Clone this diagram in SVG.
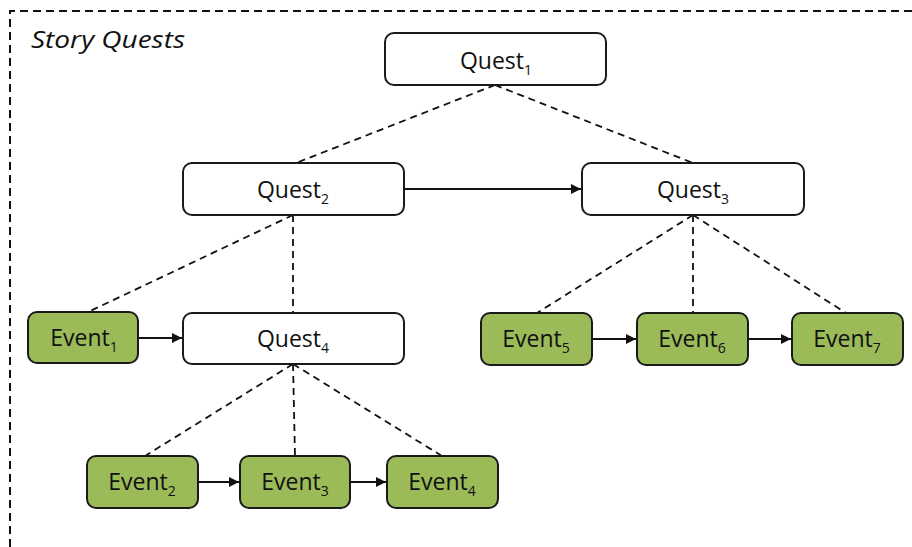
<svg xmlns="http://www.w3.org/2000/svg" width="912" height="547" viewBox="0 0 912 547">
<style>
.q{fill:#fff;stroke:#1a1a1a;stroke-width:2}
.e{fill:#9bbb59;stroke:#1a1a1a;stroke-width:2}
.t{font-family:"Open Sans","Liberation Sans",sans-serif;font-size:23px;fill:#111;text-anchor:middle}
.s{font-size:14px;fill:#111}
.d{stroke:#111;stroke-width:1.8;stroke-dasharray:7 5;fill:none}
.a{stroke:#111;stroke-width:2;fill:none;marker-end:url(#ah)}
</style>
<defs>
<marker id="ah" viewBox="0 0 10 10" refX="10" refY="5" markerWidth="10" markerHeight="10" markerUnits="userSpaceOnUse" orient="auto">
<path d="M0,0 L10,5 L0,10 z" fill="#111"/>
</marker>
</defs>
<rect x="0" y="0" width="912" height="547" fill="#fff"/>
<g id="frame">
<path d="M10,560 L10,11 L920,11" fill="none" stroke="#111" stroke-width="2" stroke-dasharray="8 5"/>
<text x="31" y="48" font-family="'Open Sans','Liberation Sans',sans-serif" font-size="24" font-style="italic" fill="#111" textLength="154" lengthAdjust="spacingAndGlyphs">Story Quests</text>
</g>
<g id="connectors">
<line class="d" x1="495" y1="85" x2="296" y2="163"/>
<line class="d" x1="495" y1="85" x2="693" y2="163"/>
<line class="d" x1="293" y1="215" x2="88" y2="312"/>
<line class="d" x1="293" y1="215" x2="293" y2="313"/>
<line class="d" x1="693" y1="215" x2="537" y2="313"/>
<line class="d" x1="693" y1="215" x2="693" y2="313"/>
<line class="d" x1="693" y1="215" x2="846" y2="313"/>
<line class="d" x1="293" y1="364" x2="145" y2="456"/>
<line class="d" x1="293" y1="364" x2="295" y2="456"/>
<line class="d" x1="293" y1="364" x2="442" y2="456"/>
<line class="a" x1="405" y1="189" x2="581" y2="189"/>
<line class="a" x1="139" y1="338" x2="182" y2="338"/>
<line class="a" x1="593" y1="339" x2="636" y2="339"/>
<line class="a" x1="749" y1="339" x2="791" y2="339"/>
<line class="a" x1="199" y1="482" x2="239" y2="482"/>
<line class="a" x1="351" y1="482" x2="386" y2="482"/>
</g>
<g id="quest1"><rect class="q" x="385" y="33" width="221" height="52" rx="9"/><text class="t" x="496" y="69">Quest<tspan class="s" dy="6">1</tspan></text></g>
<g id="quest2"><rect class="q" x="183" y="163" width="221" height="52" rx="9"/><text class="t" x="293" y="198">Quest<tspan class="s" dy="6">2</tspan></text></g>
<g id="quest3"><rect class="q" x="582" y="163" width="222" height="52" rx="9"/><text class="t" x="693" y="198">Quest<tspan class="s" dy="6">3</tspan></text></g>
<g id="quest4"><rect class="q" x="183" y="313" width="221" height="51" rx="9"/><text class="t" x="293" y="347">Quest<tspan class="s" dy="6">4</tspan></text></g>
<g id="event1"><rect class="e" x="28" y="312" width="110" height="51" rx="9"/><text class="t" x="84" y="346">Event<tspan class="s" dy="6">1</tspan></text></g>
<g id="event5"><rect class="e" x="481" y="313" width="111" height="52" rx="9"/><text class="t" x="536" y="347">Event<tspan class="s" dy="6">5</tspan></text></g>
<g id="event6"><rect class="e" x="637" y="313" width="111" height="52" rx="9"/><text class="t" x="692" y="347">Event<tspan class="s" dy="6">6</tspan></text></g>
<g id="event7"><rect class="e" x="792" y="313" width="111" height="52" rx="9"/><text class="t" x="847" y="347">Event<tspan class="s" dy="6">7</tspan></text></g>
<g id="event2"><rect class="e" x="87" y="456" width="111" height="52" rx="9"/><text class="t" x="142" y="490">Event<tspan class="s" dy="6">2</tspan></text></g>
<g id="event3"><rect class="e" x="240" y="456" width="110" height="52" rx="9"/><text class="t" x="295" y="490">Event<tspan class="s" dy="6">3</tspan></text></g>
<g id="event4"><rect class="e" x="387" y="456" width="111" height="52" rx="9"/><text class="t" x="442" y="490">Event<tspan class="s" dy="6">4</tspan></text></g>
</svg>
